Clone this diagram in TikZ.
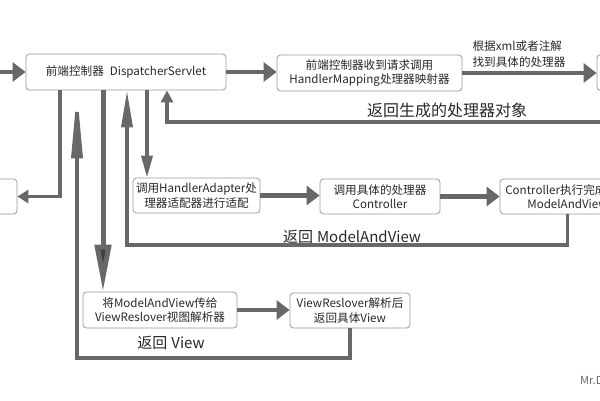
\documentclass[tikz,border=0pt]{standalone}
\usepackage{fontspec}
\setmainfont{Noto Sans CJK SC}
\usetikzlibrary{arrows.meta}

\definecolor{flowgray}{RGB}{104,104,104}
\definecolor{boxgray}{RGB}{155,155,155}
\definecolor{textgray}{RGB}{40,40,40}

\tikzset{
  box/.style={draw=boxgray, line width=0.8pt, rounded corners=3.5pt, fill=white,
    align=center, inner sep=0pt, text=textgray, font=\fontsize{11.6}{14.5}\selectfont},
  flow/.style={draw=flowgray, line width=4.5pt, -{Triangle[length=13pt,width=19pt]}},
  thinflow/.style={draw=flowgray, line width=3.5pt},
  steplabel/.style={text=textgray, font=\fontsize{11.6}{16}\selectfont, align=left, inner sep=0pt},
  backlabel/.style={text=textgray, font=\fontsize{15}{18}\selectfont, inner sep=0pt}
}

\begin{document}
\begin{tikzpicture}[x=1pt, y=-1pt]
    \useasboundingbox (0,0) rectangle (600,400);
    \clip (0,0) rectangle (600,400);
    % x positions of the lines under the DispatcherServlet
    \pgfmathsetmacro{\lineone}{60}
    \pgfmathsetmacro{\linetwo}{77}
    \pgfmathsetmacro{\linethree}{103}
    \pgfmathsetmacro{\linefour}{127}
    \pgfmathsetmacro{\linefive}{147}
    \pgfmathsetmacro{\linesix}{167}
    \coordinate (x1) at (\lineone,0);
    \coordinate (x2) at (\linetwo,0);
    \coordinate (x3) at (\linethree,0);
    \coordinate (x4) at (\linefour,0);
    \coordinate (x5) at (\linefive,0);
    \coordinate (x6) at (\linesix,0);
    \coordinate (start) at (-10,72);
    \coordinate (backhandler) at (\linesix,122);
    \coordinate (backmv) at (\linefour,245);
    \coordinate (backview) at (\linetwo,358);

    % boxes
    \node[box, minimum width=200pt, minimum height=36pt] (ds) at (126,72) {前端控制器\hspace{6pt}DispatcherServlet};
    \node[box, minimum width=185pt, minimum height=36pt] (hm) at (369.5,73) {前端控制器收到请求调用\\HandlerMapping处理器映射器};
    \node[box, minimum width=106pt, minimum height=36pt] (rbox) at (650,72.5) {};
    \node[box, minimum width=74pt, minimum height=35pt] (lbox) at (-20,196.5) {};
    \node[box, minimum width=127pt, minimum height=35pt] (ha) at (196.5,195.5) {调用HandlerAdapter处\\理器适配器进行适配};
    \node[box, minimum width=120pt, minimum height=35pt] (ctl) at (380,196.5) {调用具体的处理器\\Controller};
    \node[box, minimum width=135pt, minimum height=35pt] (done) at (567.5,196.5) {Controller执行完成返回\\ModelAndView};
    \node[box, minimum width=154pt, minimum height=36pt] (mv) at (160,310) {将ModelAndView传给\\ViewReslover视图解析器};
    \node[box, minimum width=120pt, minimum height=35pt] (vr) at (350,310.5) {ViewReslover解析后\\返回具体View};

    % forward flow
    \draw[flow] (start) -- (ds.west);
    \draw[flow] (ds.east) -- (ds.east -| hm.west);
    \draw[flow] (hm.east) -- (hm.east -| rbox.west);
    \node[steplabel, anchor=south west] (findlabel) at ([xshift=10pt,yshift=5pt]hm.east) {根据xml或者注解\\找到具体的处理器};
    \draw[thinflow, -{Triangle[length=12pt,width=12pt]}] (rbox.south) |- (backhandler) -- (ds.south -| x6);
    \node[backlabel, font=\fontsize{16}{18}\selectfont] (handlerlabel) at (447,110) {返回生成的处理器对象};

    \draw[thinflow, -{Triangle[length=11pt,width=13pt]}] (ds.south -| x1) |- (lbox.east);
    \draw[thinflow, -{Triangle[length=22pt,width=11pt]}] (ds.south -| x5) -- (ha.north -| x5);
    \draw[flow] (ha.east) -- (ha.east -| ctl.west);
    \draw[flow] (ctl.east) -- (done.west);
    \draw[thinflow, -{Triangle[length=37pt,width=11pt]}] (done.south) |- (backmv) -- (ds.south -| x4);
    \node[backlabel] (mvlabel) at (352,237) {返回\hspace{4pt}ModelAndView};

    \draw[thinflow, line width=5pt, -{Triangle[length=47pt,width=16pt,fill=black!75]}] (ds.south -| x3) -- (mv.north -| x3);
    \draw[flow] (mv.east) -- (mv.east -| vr.west);
    \draw[thinflow, -{Triangle[length=68pt,width=11pt]}] (vr.south) |- (backview) -- (ds.south -| x2);
    \node[backlabel] (viewlabel) at (171,343) {返回\hspace{4pt}View};

    \node[text=black!60, font=\fontsize{11}{13}\selectfont, anchor=west, inner sep=0pt] (sign) at (580,382) {Mr.Dong};
\end{tikzpicture}
\end{document}
